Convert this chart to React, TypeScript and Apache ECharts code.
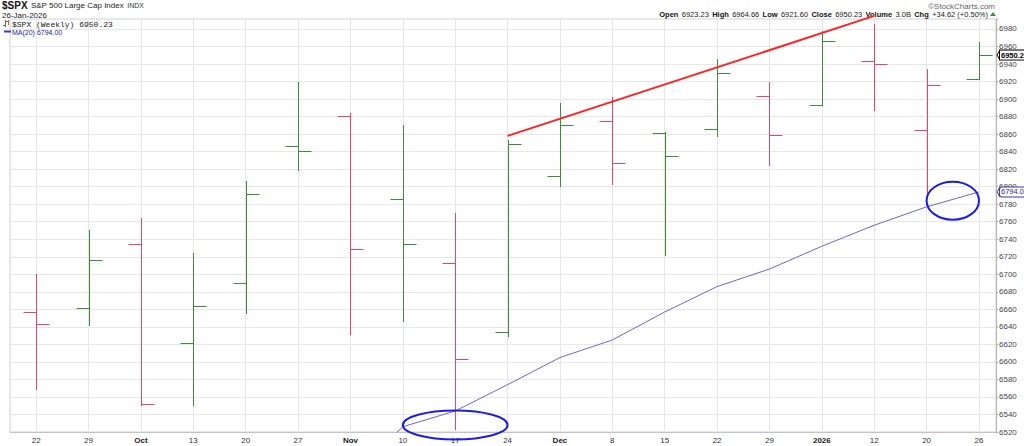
import React, { useEffect, useRef } from 'react';
import * as echarts from 'echarts';

// Weekly OHLC of $SPX
const weekDates = ['2025-09-22', '2025-09-29', '2025-10-06', '2025-10-13', '2025-10-20', '2025-10-27', '2025-11-03', '2025-11-10', '2025-11-17', '2025-11-24', '2025-12-01', '2025-12-08', '2025-12-15', '2025-12-22', '2025-12-29', '2026-01-05', '2026-01-12', '2026-01-20', '2026-01-26'];
const tickLabels = ['22', '29', 'Oct', '13', '20', '27', 'Nov', '10', '17', '24', 'Dec', '8', '15', '22', '29', '2026', '12', '20', '26'];
const opens = [6657, 6661, 6735, 6622, 6690, 6846, 6881, 6786, 6713, 6634, 6812, 6875, 6861, 6866, 6904, 6893, 6944, 6865, 6923.23];
const highs = [6700, 6751, 6764, 6724, 6807, 6920, 6884, 6870, 6770, 6853, 6896, 6902, 6862, 6946, 6920, 6978, 6986, 6934, 6964.66];
const lows = [6568, 6641, 6550, 6550, 6655, 6818, 6631, 6646, 6522, 6629, 6800, 6802, 6721, 6857, 6824, 6892, 6886, 6790, 6921.6];
const closes = [6643.7, 6715.79, 6552.51, 6664.01, 6791.69, 6840.2, 6728.8, 6734.11, 6602.99, 6849.09, 6870.4, 6827.41, 6834.5, 6929.94, 6858.47, 6966.28, 6940.01, 6915.61, 6950.23];
const prevClose = 6664.36;
const ma20 = [null, null, null, null, null, null, 6470, 6526, 6544, 6574, 6605, 6625, 6657, 6686, 6706, 6732, 6756, 6777, 6794];

// Hand-drawn annotations (data coordinates)
const trendLine = [[9, 6858], [16, 6995]];
const circles = [
  { center: [8, 6528], rx: 1.0, ry: 16.5 },
  { center: [17.5, 6784], rx: 0.5, ry: 21.7 },
];

const GREEN = '#3c8c3c';
const RED = '#e0486a';
const FONT = 'Liberation Sans';

export default function App() {
  const ref = useRef<HTMLDivElement>(null);

  useEffect(() => {
    if (!ref.current) return;
    const chart = echarts.init(ref.current, null, { renderer: 'svg' });
    const idx = tickLabels.map((_, i) => i);
    const ohlc = weekDates.map((_, i) => {
      const pc = i === 0 ? prevClose : closes[i - 1];
      return [i, opens[i], highs[i], lows[i], closes[i], closes[i] > pc ? 1 : 0];
    });
    const maData = ma20
      .map((v, i) => (v == null ? null : [i, v]))
      .filter((d) => d !== null);

    const option: any = {
      animation: false,
      backgroundColor: '#ffffff',
      grid: {
        left: 10, right: 28, top: 19, bottom: 14,
        show: true, borderColor: '#d0d0d0', borderWidth: 1,
      },
      xAxis: {
        type: 'value',
        min: -0.5,
        max: 18.325,
        axisLine: { show: true, onZero: false, lineStyle: { color: '#c4c4c4' } },
        axisTick: { show: false, customValues: idx },
        axisLabel: {
          customValues: idx,
          margin: 4,
          fontSize: 8,
          color: '#333',
          fontFamily: FONT,
          formatter: (v: number) => {
            const t = tickLabels[Math.round(v)];
            if (t == null) return '';
            return isNaN(Number(t)) || t.length === 4 ? `{b|${t}}` : t;
          },
          rich: { b: { fontWeight: 'bold', fontSize: 8, color: '#222', fontFamily: FONT } },
        },
        splitLine: { show: true, lineStyle: { color: '#e6e6e6', width: 1 } },
      },
      yAxis: {
        type: 'value',
        position: 'right',
        min: 6520,
        max: 6991.4,
        interval: 20,
        axisLine: { show: true, onZero: false, lineStyle: { color: '#b4b4b4' } },
        axisTick: { show: true, length: 2, lineStyle: { color: '#aaa' } },
        minorTick: { show: true, splitNumber: 4, length: 1, lineStyle: { color: '#bbb' } },
        axisLabel: {
          margin: 3, fontSize: 8, color: '#444', fontFamily: FONT,
          showMaxLabel: false,
          formatter: (v: number) => String(v),
        },
        splitLine: { show: true, lineStyle: { color: '#e8e8e8', width: 1 } },
      },
      series: [
        {
          type: 'custom',
          name: '$SPX',
          clip: true,
          data: ohlc,
          encode: { x: 0, y: [1, 2, 3, 4] },
          renderItem: (params: any, api: any) => {
            const i = api.value(0);
            const pO = api.coord([i, api.value(1)]);
            const pH = api.coord([i, api.value(2)]);
            const pL = api.coord([i, api.value(3)]);
            const pC = api.coord([i, api.value(4)]);
            const color = api.value(5) ? GREEN : RED;
            const x = Math.round(pH[0]) + 0.5;
            const yo = Math.round(pO[1]) + 0.5;
            const yc = Math.round(pC[1]) + 0.5;
            const tick = 13;
            const style = { stroke: color, lineWidth: 1 };
            return {
              type: 'group',
              children: [
                { type: 'line', shape: { x1: x, y1: Math.round(pH[1]), x2: x, y2: Math.round(pL[1]) }, style },
                { type: 'line', shape: { x1: x - tick, y1: yo, x2: x, y2: yo }, style },
                { type: 'line', shape: { x1: x, y1: yc, x2: x + tick, y2: yc }, style },
              ],
            };
          },
        },
        {
          type: 'line',
          name: 'MA(20)',
          data: maData,
          symbol: 'none',
          clip: true,
          lineStyle: { color: '#6868cc', width: 1 },
        },
      ],
    };
    chart.setOption(option);

    const px = (x: number, y: number) => chart.convertToPixel({ gridIndex: 0 }, [x, y]) as number[];
    const t0 = px(trendLine[0][0], trendLine[0][1]);
    const t1 = px(trendLine[1][0], trendLine[1][1]);
    const ellipses = circles.map((c) => {
      const ctr = px(c.center[0], c.center[1]);
      const ex = px(c.center[0] + c.rx, c.center[1] + c.ry);
      return {
        type: 'ellipse',
        shape: { cx: ctr[0], cy: ctr[1], rx: Math.abs(ex[0] - ctr[0]), ry: Math.abs(ex[1] - ctr[1]) },
        style: { fill: 'none', stroke: '#1c1ce6', lineWidth: 2 },
        z: 100,
      };
    });
    const n = closes.length - 1;
    const yClose = px(n, closes[n])[1];
    const yMa = px(n, ma20[n] as number)[1];
    const axisX = 996;

    const graphic: any[] = [
      {
        type: 'text', x: 2, y: 5, z: 100,
        style: {
          text: '{a|$SPX} {b|S&P 500 Large Cap Index} {c|INDX}',
          verticalAlign: 'middle',
          rich: {
            a: { fontSize: 10, fontWeight: 'bold', fontFamily: FONT, fill: '#111' },
            b: { fontSize: 8, fontFamily: FONT, fill: '#222' },
            c: { fontSize: 7, fontFamily: FONT, fill: '#333' },
          },
        },
      },
      {
        type: 'text', x: 2, y: 15, z: 100,
        style: { text: '26-Jan-2026', fontSize: 8, fontFamily: FONT, fill: '#222', verticalAlign: 'middle' },
      },
      {
        type: 'text', x: 995, y: 6, z: 100,
        style: { text: '©StockCharts.com', fontSize: 8, fontFamily: FONT, fill: '#666', align: 'right', verticalAlign: 'middle' },
      },
      {
        type: 'text', x: 988, y: 14, z: 100,
        style: {
          text: '{l|Open} {v|6923.23} {l|High} {v|6964.66} {l|Low} {v|6921.60} {l|Close} {v|6950.23} {l|Volume} {v|3.0B} {l|Chg} {v|+34.62 (+0.50%)}',
          align: 'right', verticalAlign: 'middle',
          rich: {
            l: { fontSize: 7.5, fontWeight: 'bold', fontFamily: FONT, fill: '#111' },
            v: { fontSize: 7.5, fontFamily: FONT, fill: '#222' },
          },
        },
      },
      {
        type: 'polygon', z: 100,
        shape: { points: [[990, 16], [996, 16], [993, 12]] },
        style: { fill: GREEN },
      },
      // legend
      { type: 'line', z: 100, shape: { x1: 5.5, y1: 20, x2: 5.5, y2: 27 }, style: { stroke: GREEN, lineWidth: 1 } },
      { type: 'line', z: 100, shape: { x1: 3, y1: 25.5, x2: 5.5, y2: 25.5 }, style: { stroke: GREEN, lineWidth: 1 } },
      { type: 'line', z: 100, shape: { x1: 5.5, y1: 21.5, x2: 8, y2: 21.5 }, style: { stroke: GREEN, lineWidth: 1 } },
      { type: 'line', z: 100, shape: { x1: 8.5, y1: 20, x2: 8.5, y2: 25 }, style: { stroke: RED, lineWidth: 1 } },
      {
        type: 'text', x: 12, y: 24, z: 100,
        style: { text: '$SPX (Weekly) 6950.23', fontSize: 8, fontFamily: 'Liberation Mono', fill: '#222', verticalAlign: 'middle' },
      },
      { type: 'line', z: 100, shape: { x1: 4, y1: 31.5, x2: 11, y2: 31.5 }, style: { stroke: '#3a3ac8', lineWidth: 2 } },
      {
        type: 'text', x: 12, y: 32, z: 100,
        style: { text: 'MA(20) 6794.00', fontSize: 7, fontFamily: FONT, fill: '#2020a0', verticalAlign: 'middle' },
      },
      // annotations
      {
        type: 'line', z: 100,
        shape: { x1: t0[0], y1: t0[1], x2: t1[0], y2: t1[1] },
        style: { stroke: '#ff2424', lineWidth: 2 },
      },
      ...ellipses,
      // price tags on the axis
      {
        type: 'polygon', z: 101,
        shape: { points: [[axisX + 1, yClose], [axisX + 4, yClose - 5], [axisX + 4, yClose + 5]] },
        style: { fill: '#fff', stroke: '#000', lineWidth: 1 },
      },
      {
        type: 'text', x: axisX + 4, y: yClose, z: 102,
        style: {
          text: closes[n].toFixed(2), fontSize: 7.5, fontWeight: 'bold', fontFamily: FONT, fill: '#000',
          verticalAlign: 'middle', backgroundColor: '#fff', borderColor: '#000', borderWidth: 1, padding: [1, 0, 0, 1],
        },
      },
      {
        type: 'polygon', z: 101,
        shape: { points: [[axisX + 1, yMa], [axisX + 4, yMa - 5], [axisX + 4, yMa + 5]] },
        style: { fill: '#fff', stroke: '#3a3aa8', lineWidth: 1 },
      },
      {
        type: 'text', x: axisX + 4, y: yMa, z: 102,
        style: {
          text: (ma20[n] as number).toFixed(2), fontSize: 7.5, fontFamily: FONT, fill: '#2a2a90',
          verticalAlign: 'middle', backgroundColor: '#fff', borderColor: '#3a3aa8', borderWidth: 1, borderRadius: 2, padding: [1, 0, 0, 1],
        },
      },
    ];
    chart.setOption({ graphic });

    return () => chart.dispose();
  }, []);

  return (
    <div
      ref={ref}
      style={{ position: 'absolute', left: 0, top: 0, width: 1024, height: 446, background: '#fff' }}
    />
  );
}
